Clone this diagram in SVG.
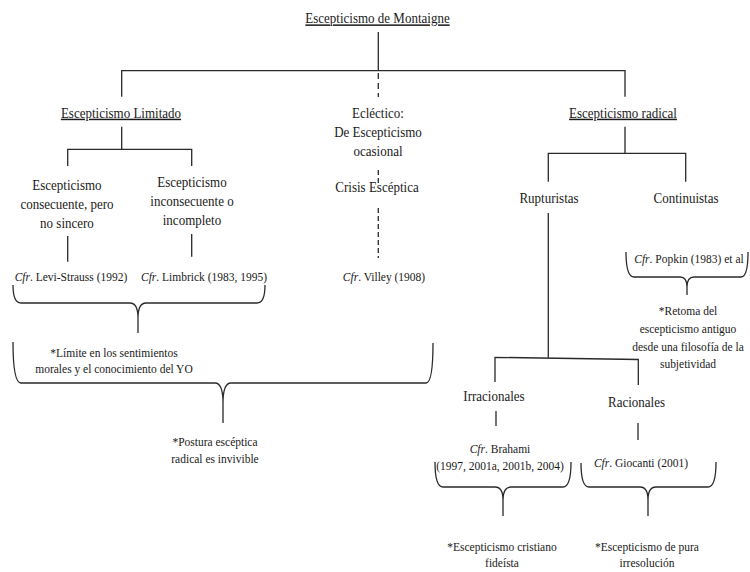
<svg xmlns="http://www.w3.org/2000/svg" width="750" height="572" viewBox="0 0 750 572">
<style>
text{font-family:"Liberation Serif","Times New Roman",serif;fill:#1a1a1a;text-anchor:middle;transform-box:fill-box;transform-origin:50% 50%;transform:scaleY(1.15)}
.h{font-size:13px}
.n{font-size:11.5px}
.u{text-decoration:underline}
.ln{stroke:#2a2a2a;stroke-width:1.3;fill:none}
.d1{stroke-dasharray:6 4}
.d2{stroke-dasharray:5 3}
</style>
<rect width="750" height="572" fill="#ffffff"/>
<g id="connectors">
<path class="ln" d="M378.3,32 V70.7 M121.7,96.7 V70.7 H625 V96.7"/>
<path class="ln d1" d="M378.3,73 V97"/>
<path class="ln" d="M121.7,126.7 V149.3 M67.7,166 V149.3 H191.7 V166"/>
<path class="ln" d="M67.7,236 V261.7 M191.7,234 V256.7"/>
<path class="ln d2" d="M378.3,170 V184"/>
<path class="ln d2" d="M378.3,208 V258"/>
<path class="ln" d="M625,126.7 V153.3 M548.3,181.7 V153.3 H685.7 V181.7"/>
<path class="ln" d="M548.3,213 V357.3 M495,382 V357.3 L638.3,359.5 V385"/>
<path class="ln" d="M496,411 V426 M638,423 V440"/>
<path class="ln" d="M13,285 Q13,303 21,303 L130,303 Q138,303 138,318 L138,333 M138,318 Q138,303 146,303 L257,303 Q265,303 265,285"/>
<path class="ln" d="M13,342 Q13,383 21,383 L215,383 Q223,383 223,403 L223,423 M223,403 Q223,383 231,383 L426,383 Q433,383 433,343"/>
<path class="ln" d="M626,252 Q626,277 634,277 L680,277 Q687,277 687,287 L687,295 M687,287 Q687,277 694,277 L741,277 Q748,277 748,252"/>
<path class="ln" d="M435,462 Q435,487 443,487 L495,487 Q503,487 503,500 L503,516 M503,500 Q503,487 511,487 L563,487 Q571,487 571,462"/>
<path class="ln" d="M581,463 Q581,487 589,487 L640,487 Q648,487 648,500 L648,516 M648,500 Q648,487 656,487 L708,487 Q716,487 716,462"/>
</g>
<g id="title"><text class="h u" x="377.5" y="22.7">Escepticismo de Montaigne</text></g>
<g id="limitado"><text class="h u" x="121" y="117">Escepticismo Limitado</text></g>
<g id="eclectico"><text class="h" x="378" y="117">Ecléctico:</text><text class="h" x="378" y="136">De Escepticismo</text><text class="h" x="378" y="155">ocasional</text></g>
<g id="radical"><text class="h u" x="623" y="117">Escepticismo radical</text></g>
<g id="consecuente"><text class="h" x="67" y="189">Escepticismo</text><text class="h" x="67" y="208">consecuente, pero</text><text class="h" x="67" y="227">no sincero</text></g>
<g id="inconsecuente"><text class="h" x="192" y="186">Escepticismo</text><text class="h" x="192" y="205">inconsecuente o</text><text class="h" x="192" y="224">incompleto</text></g>
<g id="levi"><text class="n" x="71" y="280"><tspan font-style="italic">Cfr</tspan>. Levi-Strauss (1992)</text></g>
<g id="limbrick"><text class="n" x="204" y="280"><tspan font-style="italic">Cfr</tspan>. Limbrick (1983, 1995)</text></g>
<g id="crisis"><text class="h" x="377" y="191">Crisis Escéptica</text></g>
<g id="villey"><text class="n" x="384" y="280"><tspan font-style="italic">Cfr</tspan>. Villey (1908)</text></g>
<g id="limite"><text class="n" x="114" y="356">*Límite en los sentimientos</text><text class="n" x="114" y="372">morales y el conocimiento del YO</text></g>
<g id="postura"><text class="n" x="215" y="445">*Postura escéptica</text><text class="n" x="215" y="462">radical es invivible</text></g>
<g id="rupturistas"><text class="h" x="549" y="202">Rupturistas</text></g>
<g id="continuistas"><text class="h" x="686" y="202">Continuistas</text></g>
<g id="popkin"><text class="n" x="689" y="262"><tspan font-style="italic">Cfr</tspan>. Popkin (1983) et al</text></g>
<g id="retoma"><text class="n" x="688" y="314">*Retoma del</text><text class="n" x="688" y="332">escepticismo antiguo</text><text class="n" x="688" y="350">desde una filosofía de la</text><text class="n" x="688" y="367">subjetividad</text></g>
<g id="irracionales"><text class="h" x="494" y="400">Irracionales</text></g>
<g id="racionales"><text class="h" x="636.5" y="406">Racionales</text></g>
<g id="brahami"><text class="n" x="500" y="452"><tspan font-style="italic">Cfr</tspan>. Brahami</text><text class="n" x="500" y="469">(1997, 2001a, 2001b, 2004)</text></g>
<g id="giocanti"><text class="n" x="641" y="466"><tspan font-style="italic">Cfr</tspan>. Giocanti (2001)</text></g>
<g id="cristiano"><text class="n" x="502" y="550">*Escepticismo cristiano</text><text class="n" x="502" y="566">fideísta</text></g>
<g id="pura"><text class="n" x="647" y="550">*Escepticismo de pura</text><text class="n" x="647" y="566">irresolución</text></g>
</svg>
